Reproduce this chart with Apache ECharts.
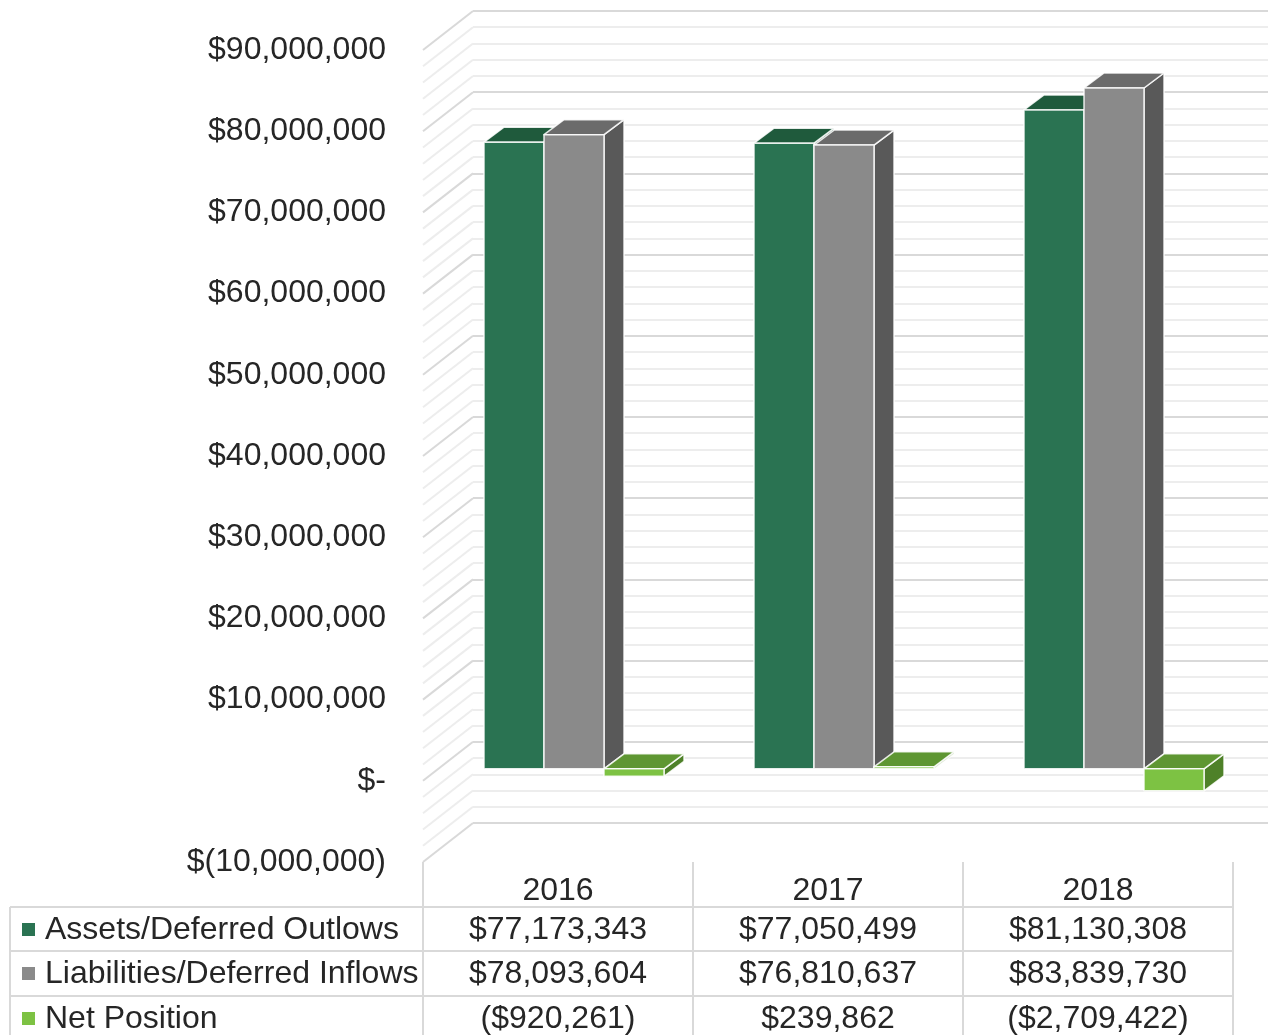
<!DOCTYPE html>
<html>
<head>
<meta charset="utf-8">
<title>Net Position</title>
<script src="https://cdn.jsdelivr.net/npm/echarts@6/dist/echarts.min.js"></script>
<style>
  html, body { margin: 0; padding: 0; background: #fff; }
  #main { width: 1268px; height: 1035px; }
</style>
</head>
<body>
<div id="main"></div>
<script>
// data
const categories = ['2016', '2017', '2018']
const seriesNames = ['Assets/Deferred Outlows', 'Liabilities/Deferred Inflows', 'Net Position']
const assets = [77173343, 77050499, 81130308]
const liabilities = [78093604, 76810637, 83839730]
const netPosition = [-920261, 239862, -2709422]
const yTicks = [-10000000, 0, 10000000, 20000000, 30000000, 40000000, 50000000, 60000000, 70000000, 80000000, 90000000]

const FONT = '"Liberation Sans", Arial, sans-serif'
const FONT_SIZE = 32
const TEXT = '#262626'
const GRID_LINE = '#d9d9d9'
const MINOR_LINE = '#ededed'

// 3d look: back wall offset, bar offset from the front plane, bar depth
const WALL_DX = 50, WALL_DY = 39
const FRONT_DX = 16, FRONT_DY = 12
const BAR_DX = 20, BAR_DY = 15

// front, top, side colours for each series
const faceColors = [
  ['#2a7352', '#1f5a3c', '#1c4f36'],
  ['#8a8a8a', '#6b6b6b', '#595959'],
  ['#7dc243', '#5e9632', '#4e8129']
]
const allValues = [assets, liabilities, netPosition]

function money(v) {
  let s = '$' + Math.abs(v).toLocaleString('en-US')
  return v < 0 ? '(' + s + ')' : s
}

function axisMoney(v) {
  if (v === 0) return '$-'
  let s = Math.abs(v).toLocaleString('en-US')
  return v < 0 ? '$(' + s + ')' : '$' + s
}

function renderBar(si) {
  return function (params, api) {
    let idx = api.value(0)
    let val = api.value(1)
    let base = api.coord([idx, 0])
    let top = api.coord([idx, val])
    let catW = api.size([1, 0])[0]
    let bw = catW / 4.5
    let x0 = base[0] - 1.5 * bw + si * bw + FRONT_DX
    let x1 = x0 + bw
    let yTop = Math.min(top[1], base[1]) - FRONT_DY
    let yBot = Math.max(top[1], base[1]) - FRONT_DY
    let c = faceColors[si]
    let edge = { stroke: 'rgba(255,255,255,0.85)', lineWidth: 1.5, lineJoin: 'round' }
    return {
      type: 'group',
      children: [
        {
          type: 'polygon',
          shape: { points: [[x1, yTop], [x1 + BAR_DX, yTop - BAR_DY], [x1 + BAR_DX, yBot - BAR_DY], [x1, yBot]] },
          style: Object.assign({ fill: c[2] }, edge)
        },
        {
          type: 'polygon',
          shape: { points: [[x0, yTop], [x1, yTop], [x1 + BAR_DX, yTop - BAR_DY], [x0 + BAR_DX, yTop - BAR_DY]] },
          style: Object.assign({ fill: c[1] }, edge)
        },
        {
          type: 'rect',
          shape: { x: x0, y: yTop, width: bw, height: Math.max(yBot - yTop, 0.5) },
          style: Object.assign({ fill: c[0] }, edge)
        }
      ]
    }
  }
}

// diagonal lines of the side wall, one per (minor) gridline
function renderSideWall(params, api) {
  let x = params.coordSys.x
  let children = []
  let step = 2000000
  for (let v = yTicks[0]; v <= yTicks[yTicks.length - 1]; v += step) {
    let y = api.coord([0, v])[1]
    let major = v % 10000000 === 0
    children.push({
      type: 'line',
      shape: { x1: x, y1: y, x2: x + WALL_DX, y2: y - WALL_DY },
      style: { stroke: major ? GRID_LINE : MINOR_LINE, lineWidth: 2 }
    })
  }
  return { type: 'group', children: children }
}

// the data table under the plot
function renderTable(params, api) {
  let idx = api.value(0)
  let cs = params.coordSys
  let cx = api.coord([idx, 0])[0]
  let catW = api.size([1, 0])[0]
  let bottom = cs.y + cs.height
  let rowY = [bottom + 68, bottom + 112, bottom + 157]
  let lineY = [bottom + 45, bottom + 89, bottom + 134]
  let tableBottom = 1040
  let lineStyle = { stroke: GRID_LINE, lineWidth: 2 }
  let textStyle = function (t, x, y, align) {
    return { text: t, x: x, y: y, fill: TEXT, font: FONT_SIZE + 'px ' + FONT, align: align, verticalAlign: 'middle' }
  }
  let children = []
  children.push({ type: 'text', style: textStyle(categories[idx], cx, bottom + 29, 'center') })
  for (let r = 0; r < 3; r++) {
    children.push({ type: 'text', style: textStyle(money(allValues[r][idx]), cx, rowY[r], 'center') })
  }
  children.push({ type: 'line', shape: { x1: cx - catW / 2, y1: bottom, x2: cx - catW / 2, y2: tableBottom }, style: lineStyle })
  if (idx === categories.length - 1) {
    children.push({ type: 'line', shape: { x1: cx + catW / 2, y1: bottom, x2: cx + catW / 2, y2: tableBottom }, style: lineStyle })
  }
  if (idx === 0) {
    let left = 10
    let right = cs.x + cs.width
    children.push({ type: 'line', shape: { x1: left, y1: lineY[0], x2: left, y2: tableBottom }, style: lineStyle })
    for (let r = 0; r < 3; r++) {
      children.push({ type: 'line', shape: { x1: left, y1: lineY[r], x2: right, y2: lineY[r] }, style: lineStyle })
      children.push({ type: 'rect', shape: { x: 22, y: rowY[r] - 7, width: 13, height: 13 }, style: { fill: faceColors[r][0] } })
      children.push({ type: 'text', style: textStyle(seriesNames[r], 45, rowY[r], 'left') })
    }
  }
  return { type: 'group', children: children }
}

let myChart = echarts.init(document.getElementById('main'), null, { renderer: 'canvas' })

let option = {
  backgroundColor: '#fff',
  animation: false,
  grid: [
    { left: 423, top: 50, width: 810, height: 812 },
    { left: 423 + WALL_DX, top: 50 - WALL_DY, width: 810, height: 812 }
  ],
  xAxis: [
    { type: 'category', gridIndex: 0, data: categories, show: false },
    { type: 'category', gridIndex: 1, data: categories, show: false }
  ],
  yAxis: [
    {
      type: 'value', gridIndex: 0,
      min: yTicks[0], max: yTicks[yTicks.length - 1], interval: 10000000,
      axisLine: { show: false }, axisTick: { show: false }, splitLine: { show: false },
      axisLabel: {
        margin: 37, color: TEXT, fontSize: FONT_SIZE, fontFamily: FONT,
        padding: [8, 0, 0, 0], formatter: axisMoney
      }
    },
    {
      type: 'value', gridIndex: 1,
      min: yTicks[0], max: yTicks[yTicks.length - 1], interval: 10000000,
      axisLine: { show: false }, axisTick: { show: false }, axisLabel: { show: false },
      splitLine: { show: true, lineStyle: { color: GRID_LINE, width: 2 } },
      minorTick: { show: false, splitNumber: 5 },
      minorSplitLine: { show: true, lineStyle: { color: MINOR_LINE, width: 2 } }
    }
  ],
  series: [
    {
      name: 'sideWall', type: 'custom', xAxisIndex: 0, yAxisIndex: 0, z: 1,
      renderItem: renderSideWall, data: [[0, 0]], silent: true
    },
    {
      name: 'table', type: 'custom', xAxisIndex: 0, yAxisIndex: 0, z: 1,
      renderItem: renderTable, data: categories.map((c, i) => [i, 0]), silent: true
    },
    {
      name: seriesNames[0], type: 'custom', xAxisIndex: 0, yAxisIndex: 0, z: 3,
      renderItem: renderBar(0), data: assets.map((v, i) => [i, v])
    },
    {
      name: seriesNames[1], type: 'custom', xAxisIndex: 0, yAxisIndex: 0, z: 3,
      renderItem: renderBar(1), data: liabilities.map((v, i) => [i, v])
    },
    {
      name: seriesNames[2], type: 'custom', xAxisIndex: 0, yAxisIndex: 0, z: 3,
      renderItem: renderBar(2), data: netPosition.map((v, i) => [i, v])
    }
  ]
}

myChart.setOption(option)
</script>
</body>
</html>
